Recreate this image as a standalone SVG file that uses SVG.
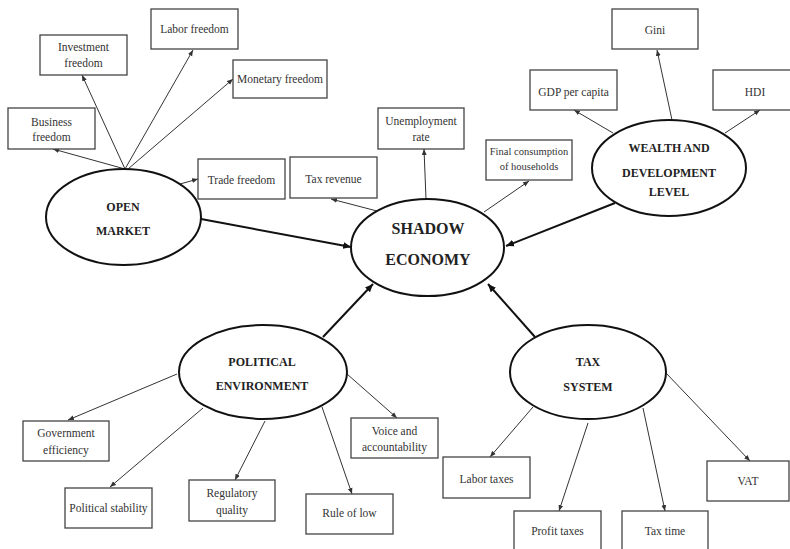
<svg xmlns="http://www.w3.org/2000/svg" width="790" height="549" viewBox="0 0 790 549">
<defs>
<style>
.box rect{fill:#fff;stroke:#444;stroke-width:1.3}
.box text{font-family:"Liberation Serif","Times New Roman",serif;font-size:11.5px;fill:#333;text-anchor:middle}
.box text.sm{font-size:10.5px}
.hub ellipse{fill:#fff;stroke:#111;stroke-width:2}
.hub text{font-family:"Liberation Serif","Times New Roman",serif;font-weight:bold;font-size:12px;fill:#222;text-anchor:middle}
.hub text.big{font-size:16px}
.thin{stroke:#333;stroke-width:1;fill:none;marker-end:url(#sa)}
.thick{stroke:#111;stroke-width:2;fill:none;marker-end:url(#ba)}
</style>
<marker id="sa" markerUnits="userSpaceOnUse" markerWidth="8" markerHeight="6" refX="6" refY="3" orient="auto"><path d="M0,0.6 L6,3 L0,5.4 Z" fill="#333"/></marker>
<marker id="ba" markerUnits="userSpaceOnUse" markerWidth="10" markerHeight="8" refX="8" refY="4" orient="auto"><path d="M0,0.5 L8,4 L0,7.5 Z" fill="#111"/></marker>
</defs>
<rect width="790" height="549" fill="#fff"/>

<g id="connectors">
<line class="thin" x1="125" y1="169" x2="53" y2="149"/>
<line class="thin" x1="125" y1="169" x2="82" y2="75"/>
<line class="thin" x1="125" y1="169" x2="193" y2="50"/>
<line class="thin" x1="128" y1="169" x2="233" y2="79"/>
<line class="thin" x1="180" y1="184" x2="198" y2="179"/>
<line class="thin" x1="377" y1="211" x2="331" y2="199"/>
<line class="thin" x1="426" y1="199" x2="424" y2="149"/>
<line class="thin" x1="484" y1="212" x2="529" y2="181"/>
<line class="thin" x1="613" y1="133" x2="574" y2="110"/>
<line class="thin" x1="672" y1="120" x2="657" y2="50"/>
<line class="thin" x1="725" y1="133" x2="760" y2="110"/>
<line class="thin" x1="177" y1="374" x2="68" y2="420"/>
<line class="thin" x1="203" y1="408" x2="110" y2="487"/>
<line class="thin" x1="265" y1="421" x2="235" y2="480"/>
<line class="thin" x1="322" y1="407" x2="352" y2="494"/>
<line class="thin" x1="347" y1="374" x2="397" y2="418"/>
<line class="thin" x1="533" y1="407" x2="490" y2="457"/>
<line class="thin" x1="588" y1="423" x2="559" y2="511"/>
<line class="thin" x1="643" y1="408" x2="665" y2="511"/>
<line class="thin" x1="666" y1="373" x2="750" y2="461"/>
<line class="thick" x1="201" y1="219" x2="351" y2="247"/>
<line class="thick" x1="615" y1="203" x2="506" y2="246"/>
<line class="thick" x1="323" y1="337" x2="373" y2="284"/>
<line class="thick" x1="535" y1="337" x2="488" y2="284"/>
</g>

<g id="shadow-economy" class="hub"><ellipse cx="427.5" cy="247.5" rx="76.5" ry="48.5"/><text class="big" x="428" y="234">SHADOW</text><text class="big" x="428" y="265">ECONOMY</text></g>
<g id="open-market" class="hub"><ellipse cx="123.5" cy="217" rx="77.5" ry="48"/><text x="123" y="211">OPEN</text><text x="123" y="235">MARKET</text></g>
<g id="wealth" class="hub"><ellipse cx="669" cy="168" rx="77" ry="48"/><text x="669" y="152">WEALTH AND</text><text x="669" y="177">DEVELOPMENT</text><text x="669" y="196">LEVEL</text></g>
<g id="political" class="hub"><ellipse cx="263" cy="372" rx="84" ry="47"/><text x="262" y="366">POLITICAL</text><text x="262" y="390">ENVIRONMENT</text></g>
<g id="tax-system" class="hub"><ellipse cx="588" cy="372" rx="78" ry="47"/><text x="588" y="366">TAX</text><text x="588" y="391">SYSTEM</text></g>

<g id="business-freedom" class="box"><rect x="8" y="108" width="87" height="41"/><text x="51.5" y="126">Business</text><text x="51.5" y="141">freedom</text></g>
<g id="investment-freedom" class="box"><rect x="40" y="35" width="87" height="40"/><text x="83.5" y="51">Investment</text><text x="83.5" y="67">freedom</text></g>
<g id="labor-freedom" class="box"><rect x="151" y="9" width="87" height="40"/><text x="194.5" y="33">Labor freedom</text></g>
<g id="monetary-freedom" class="box"><rect x="233" y="60" width="94" height="38"/><text x="280" y="83">Monetary freedom</text></g>
<g id="trade-freedom" class="box"><rect x="198" y="159" width="87" height="40"/><text x="241.5" y="184">Trade freedom</text></g>
<g id="tax-revenue" class="box"><rect x="290" y="157" width="87" height="41"/><text x="333.5" y="183">Tax revenue</text></g>
<g id="unemployment-rate" class="box"><rect x="378" y="108" width="86" height="41"/><text x="421" y="125">Unemployment</text><text x="421" y="141">rate</text></g>
<g id="final-consumption" class="box"><rect x="486" y="140" width="86" height="40"/><text class="sm" x="529" y="155">Final consumption</text><text class="sm" x="529" y="170">of households</text></g>
<g id="gdp-per-capita" class="box"><rect x="530" y="70" width="87" height="40"/><text x="573.5" y="96">GDP per capita</text></g>
<g id="gini" class="box"><rect x="612" y="9" width="86" height="40"/><text x="655" y="34">Gini</text></g>
<g id="hdi" class="box"><rect x="713" y="70" width="86" height="40"/><text x="755" y="96">HDI</text></g>
<g id="government-efficiency" class="box"><rect x="23" y="421" width="86" height="40"/><text x="66" y="437">Government</text><text x="66" y="454">efficiency</text></g>
<g id="political-stability" class="box"><rect x="65" y="488" width="87" height="40"/><text x="108.5" y="512">Political stability</text></g>
<g id="regulatory-quality" class="box"><rect x="189" y="480" width="86" height="41"/><text x="232" y="497">Regulatory</text><text x="232" y="514">quality</text></g>
<g id="rule-of-low" class="box"><rect x="306" y="494" width="87" height="40"/><text x="349.5" y="517">Rule of low</text></g>
<g id="voice-accountability" class="box"><rect x="351" y="418" width="87" height="40"/><text x="394.5" y="435">Voice and</text><text x="394.5" y="451">accountability</text></g>
<g id="labor-taxes" class="box"><rect x="443" y="457" width="87" height="41"/><text x="486.5" y="483">Labor taxes</text></g>
<g id="profit-taxes" class="box"><rect x="514" y="511" width="87" height="40"/><text x="557.5" y="535">Profit taxes</text></g>
<g id="tax-time" class="box"><rect x="622" y="511" width="86" height="40"/><text x="665" y="535">Tax time</text></g>
<g id="vat" class="box"><rect x="707" y="461" width="82" height="40"/><text x="748" y="485">VAT</text></g>
</svg>
